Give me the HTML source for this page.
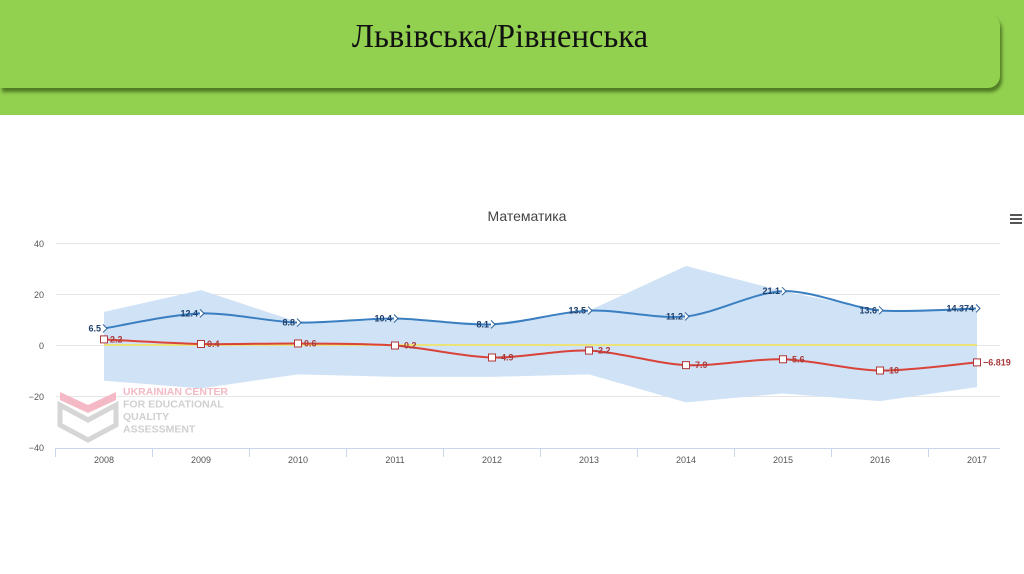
<!DOCTYPE html>
<html><head><meta charset="utf-8"><style>
body{margin:0;width:1024px;height:574px;background:#fff;overflow:hidden;position:relative;font-family:"Liberation Sans",sans-serif}
#hdr{position:absolute;left:0;top:0;width:1024px;height:115px;background:#92d050}
#box{position:absolute;left:0;top:14px;width:1000px;height:74px;background:#92d050;border-radius:0 12px 12px 0;box-shadow:2px 4px 3px #4f7a24}
#title{position:absolute;left:0;width:1000px;top:18px;text-align:center;font-family:"Liberation Serif",serif;font-size:34px;color:#111;transform:scaleX(0.96)}
svg{position:absolute;left:0;top:0}
</style></head><body>
<div id="hdr"></div><div id="box"></div>
<div id="title">Львівська/Рівненська</div>
<svg id="s" width="1024" height="574" xmlns="http://www.w3.org/2000/svg">
<text x="527" y="221" text-anchor="middle" font-size="14" fill="#444" font-family="Liberation Sans,DejaVu Sans,sans-serif">Математика</text>
<g stroke="#555" stroke-width="2"><line x1="1010" y1="215" x2="1022" y2="215"/><line x1="1010" y1="219" x2="1022" y2="219"/><line x1="1010" y1="223" x2="1022" y2="223"/></g>
<g stroke="#e6e6e6" stroke-width="1">
<line x1="56" y1="243.5" x2="1000" y2="243.5"/><line x1="56" y1="294.5" x2="1000" y2="294.5"/><line x1="56" y1="345.5" x2="1000" y2="345.5"/><line x1="56" y1="396.5" x2="1000" y2="396.5"/></g>
<line x1="56" y1="448.5" x2="1000" y2="448.5" stroke="#ccd6eb"/>
<g font-size="9" fill="#555" text-anchor="end"><text x="44" y="247">40</text><text x="44" y="298">20</text><text x="44" y="349">0</text><text x="44" y="400">−20</text><text x="44" y="451">−40</text></g>
<g id="g"></g>
</svg>
<script>
var g=document.getElementById('g'),ns='http://www.w3.org/2000/svg';
function X(i){return 104+97*i}function Y(v){return 345-2.55*v}
function el(t,a,txt){var e=document.createElementNS(ns,t);for(var k in a)e.setAttribute(k,a[k]);if(txt!=null)e.textContent=txt;g.appendChild(e);return e}
var top_=[13,21.5,9,10,8.5,13.5,31,21.1,13.6,14.4],bot=[-14,-17,-11.5,-12.5,-12.5,-11.5,-22.5,-19,-22,-16.5];
var d='M'+X(0)+','+Y(top_[0]);for(var i=1;i<10;i++)d+='L'+X(i)+','+Y(top_[i]);for(i=9;i>=0;i--)d+='L'+X(i)+','+Y(bot[i]);
el('path',{d:d+'Z',fill:'#cfe2f6'});
el('line',{x1:104,y1:345,x2:977,y2:345,stroke:'#ece27a','stroke-width':2});
el('path',{d:'M60,392 L88,405 L116,392 L116,400 L88,413 L60,400Z',fill:'#f4b9c4'});
el('path',{d:'M60,405 L88,420 L116,405 L116,425 L88,440 L60,425Z',fill:'none',stroke:'#d6d6d6','stroke-width':5});
var wt=['UKRAINIAN CENTER','FOR EDUCATIONAL','QUALITY','ASSESSMENT'];
for(i=0;i<4;i++)el('text',{x:123,y:395+i*12.5,'font-size':10.5,'font-weight':'bold',fill:i==0?'#f4b9c4':'#d0d0d0'},wt[i]);
function spline(v){var p=v.map(function(a,i){return[X(i),Y(a)]});var s='M'+p[0];for(var i=0;i<p.length-1;i++){var p0=p[i-1]||p[i],p1=p[i],p2=p[i+1],p3=p[i+2]||p2;var t=0.15;s+='C'+(p1[0]+(p2[0]-p0[0])*t)+','+(p1[1]+(p2[1]-p0[1])*t)+' '+(p2[0]-(p3[0]-p1[0])*t)+','+(p2[1]-(p3[1]-p1[1])*t)+' '+p2;}return s}
var blue=[6.5,12.4,8.8,10.4,8.1,13.5,11.2,21.1,13.6,14.374],red=[2.2,0.4,0.6,-0.2,-4.9,-2.2,-7.9,-5.6,-10,-6.819];
el('path',{d:spline(blue),fill:'none',stroke:'#3a7fc1','stroke-width':2});
el('path',{d:spline(red),fill:'none',stroke:'#d9433a','stroke-width':2});
var bl=['6.5','12.4','8.8','10.4','8.1','13.5','11.2','21.1','13.6','14.374'],rl=['2.2','0.4','0.6','-0.2','-4.9','-2.2','-7.9','-5.6','-10','-6.819'];
for(i=0;i<10;i++){var x=X(i),y=Y(blue[i]);
el('path',{d:'M'+(x-1)+','+(y-4)+' L'+(x+3)+','+y+' L'+(x-1)+','+(y+4),fill:'#fff',stroke:'#2c5f9a','stroke-width':1});
el('text',{x:x-3,y:y+3,'font-size':9,'font-weight':'bold',fill:'#1e3e6b','text-anchor':'end'},bl[i]);
y=Y(red[i]);el('rect',{x:x-3.5,y:y-3.5,width:7,height:7,fill:'#fff',stroke:'#b03838','stroke-width':1});
el('text',{x:x+6,y:y+3,'font-size':9,'font-weight':'bold',fill:'#a83a3a'},i==9?rl[i].replace('-','−'):rl[i]);
el('text',{x:x,y:463,'font-size':9,fill:'#555','text-anchor':'middle'},2008+i);
el('line',{x1:x+48.5,y1:448,x2:x+48.5,y2:457,stroke:'#ccd6eb'});}
el('line',{x1:55.5,y1:448,x2:55.5,y2:457,stroke:'#ccd6eb'});
</script>
</body></html>
